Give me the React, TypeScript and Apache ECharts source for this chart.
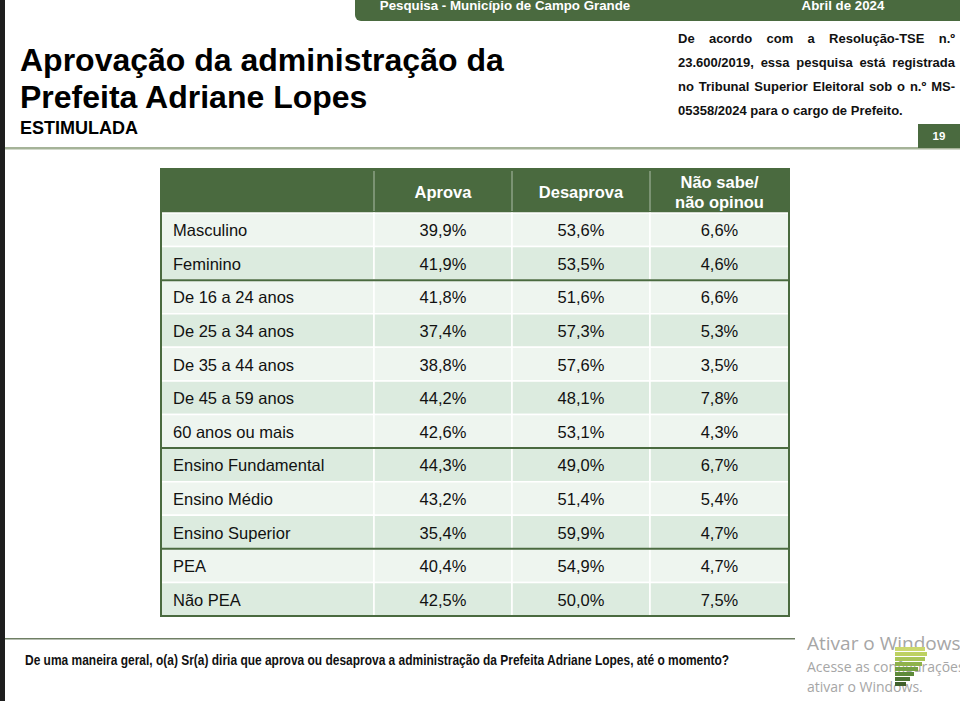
import React, { useEffect, useRef } from "react";
import * as echarts from "echarts";

// ---------- data ----------
const categories = [
  "Masculino",
  "Feminino",
  "De 16 a 24 anos",
  "De 25 a 34 anos",
  "De 35 a 44 anos",
  "De 45 a 59 anos",
  "60 anos ou mais",
  "Ensino Fundamental",
  "Ensino Médio",
  "Ensino Superior",
  "PEA",
  "Não PEA",
];
const aprova = [39.9, 41.9, 41.8, 37.4, 38.8, 44.2, 42.6, 44.3, 43.2, 35.4, 40.4, 42.5];
const desaprova = [53.6, 53.5, 51.6, 57.3, 57.6, 48.1, 53.1, 49.0, 51.4, 59.9, 54.9, 50.0];
const naoSabe = [6.6, 4.6, 6.6, 5.3, 3.5, 7.8, 4.3, 6.7, 5.4, 4.7, 4.7, 7.5];
const columnHeaders = ["", "Aprova", "Desaprova", "Não sabe/\nnão opinou"];
const groupStarts = [2, 7, 10];

const titleLines = ["Aprovação da administração da", "Prefeita Adriane Lopes"];
const subtitle = "ESTIMULADA";
const bannerLeft = "Pesquisa - Município de Campo Grande";
const bannerRight = "Abril de 2024";
const noteLines = [
  "De acordo com a Resolução-TSE n.º",
  "23.600/2019, essa pesquisa está registrada",
  "no Tribunal Superior Eleitoral sob o n.º MS-",
  "05358/2024 para o cargo de Prefeito.",
];
const pageNumber = "19";
const question =
  "De uma maneira geral, o(a) Sr(a) diria que aprova ou desaprova a administração da Prefeita Adriane Lopes, até o momento?";
const watermark = ["Ativar o Windows", "Acesse as configurações para", "ativar o Windows."];

// ---------- layout / style ----------
const FONT = "'Liberation Sans', Arial, Helvetica, sans-serif";
const GREEN = "#4a6a3f";
const LIGHT = "#eef5ef";
const DARK = "#dcebdf";
const T_LEFT = 161;
const T_WIDTH = 628;
const H_TOP = 169;
const B_TOP = 213;
const B_HEIGHT = 403;
const COL_EDGES = [0, 213, 351, 489, 628];

const valueCols = [aprova, desaprova, naoSabe];
const fmt = (v: number) => v.toFixed(1).replace(".", ",") + "%";

let _ctx: CanvasRenderingContext2D | null = null;
function measure(text: string, font: string): number {
  if (!_ctx) _ctx = document.createElement("canvas").getContext("2d");
  if (!_ctx) return text.length * 6;
  _ctx.font = font;
  return _ctx.measureText(text).width;
}

function justifiedLine(text: string, x0: number, x1: number, y: number, font: string, justify: boolean) {
  const words = text.split(" ");
  if (!justify || words.length < 2) {
    return [{ type: "text", x: x0, y, style: { text, font, fill: "#111", verticalAlign: "middle" } }];
  }
  const widths = words.map((w) => measure(w, font));
  const total = widths.reduce((a, b) => a + b, 0);
  const gap = (x1 - x0 - total) / (words.length - 1);
  let x = x0;
  const out: any[] = [];
  words.forEach((w, i) => {
    out.push({ type: "text", x, y, style: { text: w, font, fill: "#111", verticalAlign: "middle" } });
    x += widths[i] + gap;
  });
  return out;
}

export default function App() {
  const ref = useRef<HTMLDivElement>(null);

  useEffect(() => {
    document.body.style.margin = "0";
    if (!ref.current) return;
    const chart = echarts.init(ref.current, undefined, { renderer: "svg" });

    const cellData: number[][] = [];
    categories.forEach((_, r) => {
      for (let c = 0; c < 4; c++) cellData.push([c, r]);
    });

    const graphics: any[] = [];
    // left dark strip
    graphics.push({ type: "rect", shape: { x: 0, y: 0, width: 5, height: 701 }, style: { fill: "#1e1e1e" } });
    // banner
    graphics.push({ type: "rect", shape: { x: 355, y: -10, width: 620, height: 31, r: 6 }, style: { fill: GREEN } });
    graphics.push({
      type: "text", x: 505, y: 5,
      style: { text: bannerLeft, font: `bold 13.3px ${FONT}`, fill: "#fff", align: "center", verticalAlign: "middle" },
    });
    graphics.push({
      type: "text", x: 843, y: 5,
      style: { text: bannerRight, font: `bold 13.3px ${FONT}`, fill: "#fff", align: "center", verticalAlign: "middle" },
    });
    // title
    graphics.push({
      type: "text", x: 20, y: 60,
      style: { text: titleLines[0], font: `bold 32px ${FONT}`, fill: "#000", verticalAlign: "middle" },
    });
    graphics.push({
      type: "text", x: 20, y: 97,
      style: { text: titleLines[1], font: `bold 32px ${FONT}`, fill: "#000", verticalAlign: "middle" },
    });
    graphics.push({
      type: "text", x: 20, y: 128,
      style: { text: subtitle, font: `bold 18px ${FONT}`, fill: "#000", verticalAlign: "middle" },
    });
    // note paragraph
    const noteFont = `bold 13px ${FONT}`;
    noteLines.forEach((line, i) => {
      graphics.push(...justifiedLine(line, 678, 955, 38 + i * 24, noteFont, i < noteLines.length - 1));
    });
    // rule and page box
    graphics.push({ type: "rect", shape: { x: 5, y: 147, width: 955, height: 2.5 }, style: { fill: "#a5b398" } });
    graphics.push({ type: "rect", shape: { x: 918, y: 124, width: 42, height: 24 }, style: { fill: GREEN } });
    graphics.push({
      type: "text", x: 939, y: 136,
      style: { text: pageNumber, font: `bold 11.5px ${FONT}`, fill: "#fff", align: "center", verticalAlign: "middle" },
    });
    // table header
    graphics.push({ type: "rect", shape: { x: T_LEFT, y: H_TOP, width: T_WIDTH, height: B_TOP - H_TOP }, style: { fill: GREEN } });
    for (let c = 1; c < 4; c++) {
      const xe = T_LEFT + COL_EDGES[c];
      graphics.push({
        type: "line", shape: { x1: xe, y1: H_TOP + 2, x2: xe, y2: B_TOP - 2 },
        style: { stroke: "rgba(255,255,255,0.55)", lineWidth: 1 },
      });
      const cx = T_LEFT + (COL_EDGES[c] + COL_EDGES[c + 1]) / 2;
      graphics.push({
        type: "text", x: cx, y: (H_TOP + B_TOP) / 2 + 0.5,
        style: {
          text: columnHeaders[c], font: `bold 16.5px ${FONT}`, fill: "#fff",
          align: "center", verticalAlign: "middle", lineHeight: 20,
        },
      });
    }
    // outer border
    graphics.push({
      type: "rect", z: 100,
      shape: { x: T_LEFT, y: H_TOP, width: T_WIDTH, height: B_TOP + B_HEIGHT - H_TOP },
      style: { fill: "none", stroke: GREEN, lineWidth: 2 },
    });
    // footer rule and question
    graphics.push({ type: "rect", shape: { x: 5, y: 638, width: 790, height: 1.5 }, style: { fill: "#6f7f64" } });
    const qFont = `bold 14px ${FONT}`;
    const qScale = 705 / measure(question, qFont);
    graphics.push({
      type: "text", x: 25, y: 660, scaleX: qScale,
      style: { text: question, font: qFont, fill: "#111", verticalAlign: "middle" },
    });
    // watermark
    graphics.push({
      type: "text", x: 807, y: 643,
      style: { text: watermark[0], font: `19px 'Open Sans', sans-serif`, fill: "#a6a6a6", verticalAlign: "middle" },
    });
    graphics.push({
      type: "text", x: 807, y: 666,
      style: { text: watermark[1], font: `14px 'Open Sans', sans-serif`, fill: "#a6a6a6", verticalAlign: "middle" },
    });
    graphics.push({
      type: "text", x: 807, y: 686,
      style: { text: watermark[2], font: `14px 'Open Sans', sans-serif`, fill: "#a6a6a6", verticalAlign: "middle" },
    });
    const logoBars = [
      [647, 30, "#cbd86e"], [652, 32, "#bdd161"], [657, 30, "#a9c657"], [662, 27, "#8fb24b"],
      [667, 23, "#74a042"], [672, 19, "#5e8a3a"], [677, 15, "#4c7333"], [682, 11, "#40602c"],
    ];
    logoBars.forEach(([y, w, col]) => {
      graphics.push({ type: "rect", shape: { x: 895, y: y as number, width: w as number, height: 4 }, style: { fill: col as string } });
    });

    chart.setOption({
      animation: false,
      backgroundColor: "#ffffff",
      grid: { left: T_LEFT, top: B_TOP, width: T_WIDTH, height: B_HEIGHT, containLabel: false },
      xAxis: { type: "value", min: 0, max: T_WIDTH, show: false },
      yAxis: { type: "category", data: categories, inverse: true, show: false },
      graphic: graphics,
      series: [
        {
          type: "custom",
          data: cellData,
          silent: true,
          renderItem: (params: any, api: any) => {
            const c = api.value(0);
            const r = api.value(1);
            const p0 = api.coord([COL_EDGES[c], r]);
            const p1 = api.coord([COL_EDGES[c + 1], r]);
            const h = api.size([0, 1])[1];
            const x0 = p0[0];
            const x1 = p1[0];
            const y0 = p0[1] - h / 2;
            const text = c === 0 ? categories[r] : fmt(valueCols[c - 1][r]);
            return {
              type: "group",
              children: [
                {
                  type: "rect",
                  shape: { x: x0, y: y0, width: x1 - x0, height: h },
                  style: { fill: r % 2 === 0 ? LIGHT : DARK, stroke: "#ffffff", lineWidth: 1.5 },
                },
                {
                  type: "text",
                  style: {
                    text,
                    x: c === 0 ? x0 + 12 : (x0 + x1) / 2,
                    y: y0 + h / 2 + 0.5,
                    align: c === 0 ? "left" : "center",
                    verticalAlign: "middle",
                    font: `16.5px ${FONT}`,
                    fill: "#111",
                  },
                },
              ],
            };
          },
        },
        {
          type: "custom",
          data: groupStarts.map((r) => [0, r]),
          silent: true,
          z: 5,
          renderItem: (params: any, api: any) => {
            const r = api.value(1);
            const p0 = api.coord([0, r]);
            const p1 = api.coord([T_WIDTH, r]);
            const h = api.size([0, 1])[1];
            const y = p0[1] - h / 2;
            return {
              type: "line",
              shape: { x1: p0[0], y1: y, x2: p1[0], y2: y },
              style: { stroke: GREEN, lineWidth: 2 },
            };
          },
        },
      ],
    });

    return () => chart.dispose();
  }, []);

  return <div ref={ref} style={{ width: 960, height: 701, background: "#fff" }} />;
}
